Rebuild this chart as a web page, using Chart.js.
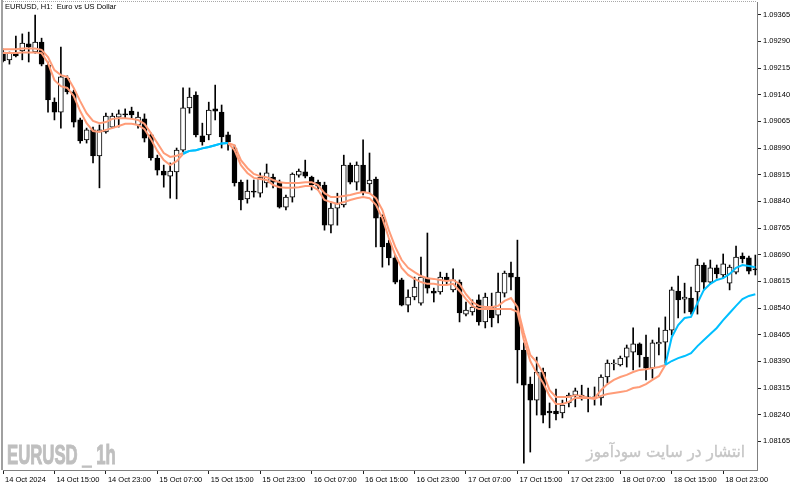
<!DOCTYPE html>
<html>
<head>
<meta charset="utf-8">
<script src="https://cdn.jsdelivr.net/npm/chart.js@4.4.1/dist/chart.umd.min.js"></script>
<style>
  html, body { margin: 0; padding: 0; background: #ffffff; }
  #wrap { position: relative; width: 800px; height: 487px; overflow: hidden; background: #ffffff; }
  #c { position: absolute; left: 0; top: 0; }
  .ov { position: absolute; white-space: nowrap; pointer-events: none; }
  #title { left: 5px; top: 2px; font: 7.5px 'Liberation Sans', Arial, sans-serif; color: #000; line-height: 10px; }
  #wm1 { left: 7px; top: 442px; font: bold 27px 'Liberation Sans', Arial, sans-serif; line-height: 27px; color: #bfbfbf; -webkit-text-stroke: 1px #bfbfbf; transform: scaleX(0.62); transform-origin: 0 0; }
  #wm2 { right: 55px; top: 438px; font: 16px 'DejaVu Sans', sans-serif; line-height: 28px; color: #c6c6c6; direction: rtl; -webkit-text-stroke: 0.4px #c6c6c6; transform: scaleX(0.95); transform-origin: 100% 0; }
</style>
</head>
<body>
<div id="wrap">
  <canvas id="c" width="800" height="487"></canvas>
  <div class="ov" id="title">EURUSD, H1:&nbsp; Euro vs US Dollar</div>
  <div class="ov" id="wm1">EURUSD _ 1h</div>
  <div class="ov" id="wm2">انتشار در سایت سودآموز</div>
</div>
<script>
// ---- data (EURUSD H1 candles, 14 Oct 2024 07:00 onward) ----
const open = [
1.09260,1.09238,1.09257,1.09263,1.09283,1.09260,1.09288,1.09223,1.09119,1.09091,
1.09187,1.09148,1.09069,1.09013,1.09041,1.08968,1.09035,1.09049,1.09077,1.09086,
1.09094,1.09055,1.09072,1.09027,1.08962,1.08925,1.08911,1.08923,1.08984,1.09103,
1.09139,1.09024,1.09027,1.09100,1.09091,1.09027,1.08990,1.08894,1.08847,1.08869,
1.08863,1.08892,1.08908,1.08894,1.08824,1.08852,1.08914,1.08923,1.08908,1.08894,
1.08886,1.08773,1.08821,1.08830,1.08942,1.08894,1.08942,1.08889,1.08903,1.08796,
1.08723,1.08681,1.08619,1.08548,1.08571,1.08554,1.08624,1.08588,1.08585,1.08627,
1.08591,1.08613,1.08523,1.08529,1.08563,1.08501,1.08543,1.08520,1.08582,1.08638,
1.08627,1.08422,1.08326,1.08281,1.08360,1.08250,1.08250,1.08245,1.08273,1.08295,
1.08295,1.08290,1.08287,1.08287,1.08346,1.08383,1.08380,1.08402,1.08416,1.08439,
1.08402,1.08371,1.08439,1.08444,1.08478,1.08588,1.08565,1.08568,1.08585,1.08661,
1.08613,1.08653,1.08633,1.08610,1.08641,1.08686,1.08681,1.08650
];
const high = [
1.09268,1.09260,1.09305,1.09311,1.09316,1.09364,1.09299,1.09232,1.09131,1.09274,
1.09193,1.09153,1.09074,1.09046,1.09049,1.09055,1.09088,1.09088,1.09097,1.09100,
1.09105,1.09091,1.09086,1.09032,1.08970,1.08942,1.08948,1.08990,1.09159,1.09159,
1.09148,1.09060,1.09119,1.09167,1.09111,1.09035,1.08998,1.08900,1.08900,1.08900,
1.08920,1.08945,1.08917,1.08900,1.08858,1.08920,1.08931,1.08956,1.08911,1.08900,
1.08894,1.08835,1.08863,1.08970,1.08948,1.08951,1.09013,1.08976,1.08908,1.08802,
1.08731,1.08689,1.08624,1.08591,1.08627,1.08683,1.08751,1.08596,1.08641,1.08638,
1.08650,1.08619,1.08557,1.08563,1.08577,1.08582,1.08582,1.08638,1.08644,1.08669,
1.08731,1.08442,1.08346,1.08402,1.08371,1.08273,1.08312,1.08281,1.08301,1.08315,
1.08323,1.08315,1.08318,1.08352,1.08394,1.08394,1.08405,1.08436,1.08484,1.08442,
1.08464,1.08450,1.08484,1.08515,1.08599,1.08630,1.08610,1.08599,1.08678,1.08667,
1.08675,1.08661,1.08692,1.08661,1.08714,1.08695,1.08686,1.08689
];
const low = [
1.09232,1.09226,1.09246,1.09238,1.09232,1.09257,1.09221,1.09091,1.09069,1.09046,
1.09142,1.09049,1.09004,1.09004,1.08948,1.08878,1.09032,1.09046,1.09049,1.09074,
1.09074,1.09046,1.09007,1.08956,1.08914,1.08880,1.08849,1.08847,1.08979,1.09088,
1.09021,1.08998,1.09013,1.09069,1.08990,1.08984,1.08883,1.08816,1.08835,1.08852,
1.08852,1.08880,1.08878,1.08821,1.08816,1.08838,1.08908,1.08906,1.08872,1.08872,
1.08759,1.08751,1.08773,1.08824,1.08889,1.08872,1.08858,1.08863,1.08712,1.08655,
1.08661,1.08608,1.08546,1.08529,1.08563,1.08548,1.08582,1.08557,1.08579,1.08605,
1.08585,1.08501,1.08518,1.08520,1.08492,1.08484,1.08487,1.08498,1.08571,1.08591,
1.08329,1.08104,1.08135,1.08239,1.08217,1.08203,1.08225,1.08231,1.08262,1.08262,
1.08281,1.08248,1.08267,1.08267,1.08329,1.08366,1.08377,1.08374,1.08366,1.08374,
1.08338,1.08343,1.08408,1.08385,1.08464,1.08512,1.08526,1.08523,1.08523,1.08591,
1.08608,1.08624,1.08624,1.08591,1.08636,1.08667,1.08636,1.08633
];
const close = [
1.09235,1.09257,1.09249,1.09285,1.09274,1.09288,1.09226,1.09125,1.09091,1.09190,
1.09148,1.09063,1.09010,1.09041,1.08968,1.09041,1.09080,1.09080,1.09086,1.09083,
1.09083,1.09077,1.09018,1.08962,1.08928,1.08914,1.08925,1.08984,1.09103,1.09133,
1.09027,1.09007,1.09097,1.09094,1.09021,1.09007,1.08892,1.08844,1.08869,1.08866,
1.08908,1.08920,1.08894,1.08824,1.08852,1.08917,1.08925,1.08911,1.08886,1.08883,
1.08773,1.08821,1.08835,1.08942,1.08894,1.08942,1.08866,1.08900,1.08793,1.08712,
1.08681,1.08613,1.08548,1.08571,1.08599,1.08627,1.08596,1.08582,1.08627,1.08619,
1.08619,1.08526,1.08534,1.08543,1.08501,1.08571,1.08512,1.08585,1.08638,1.08627,
1.08422,1.08323,1.08281,1.08360,1.08239,1.08245,1.08242,1.08267,1.08295,1.08307,
1.08290,1.08287,1.08290,1.08346,1.08385,1.08385,1.08399,1.08428,1.08439,1.08408,
1.08371,1.08442,1.08444,1.08478,1.08591,1.08563,1.08571,1.08529,1.08661,1.08613,
1.08653,1.08636,1.08664,1.08655,1.08683,1.08678,1.08644,1.08647
];
// moving-average lines (upper / lower)
const maUpper = [
1.09268,1.09268,1.09268,1.09270,1.09270,1.09270,1.09266,1.09246,1.09209,1.09195,
1.09190,1.09159,1.09122,1.09088,1.09066,1.09060,1.09063,1.09072,1.09074,1.09074,
1.09072,1.09069,1.09058,1.09032,1.09004,1.08976,1.08965,1.08968,1.08976,1.08982,
1.08984,1.08989,1.08993,1.08998,1.09003,1.09004,1.08998,1.08956,1.08934,1.08917,
1.08911,1.08908,1.08900,1.08894,1.08892,1.08892,1.08892,1.08894,1.08894,1.08886,
1.08863,1.08852,1.08852,1.08855,1.08858,1.08863,1.08866,1.08863,1.08849,1.08816,
1.08759,1.08712,1.08675,1.08653,1.08641,1.08630,1.08624,1.08622,1.08619,1.08616,
1.08619,1.08608,1.08579,1.08557,1.08546,1.08543,1.08543,1.08546,1.08560,1.08568,
1.08543,1.08470,1.08408,1.08388,1.08357,1.08309,1.08290,1.08290,1.08290,1.08295,
1.08293,1.08287,1.08287,1.08309,1.08326,1.08338,1.08346,1.08352,1.08360,1.08366,
1.08368,1.08371,1.08374,1.08380,1.08458,1.08492,1.08512,1.08515,1.08554,1.08591,
1.08608,1.08619,1.08624,1.08636,1.08653,1.08661,1.08658,1.08655
];
const maLower = [
1.09257,1.09257,1.09257,1.09259,1.09259,1.09259,1.09257,1.09229,1.09181,1.09164,
1.09159,1.09136,1.09094,1.09060,1.09038,1.09035,1.09041,1.09046,1.09052,1.09058,
1.09058,1.09055,1.09043,1.09015,1.08982,1.08956,1.08942,1.08953,1.08973,1.08982,
1.08984,1.08989,1.08993,1.08998,1.09003,1.09004,1.08984,1.08942,1.08920,1.08906,
1.08903,1.08900,1.08886,1.08880,1.08878,1.08878,1.08880,1.08883,1.08883,1.08872,
1.08844,1.08838,1.08833,1.08838,1.08844,1.08849,1.08852,1.08849,1.08830,1.08793,
1.08737,1.08689,1.08653,1.08633,1.08622,1.08613,1.08608,1.08608,1.08605,1.08605,
1.08608,1.08588,1.08565,1.08546,1.08537,1.08537,1.08537,1.08537,1.08537,1.08537,
1.08529,1.08450,1.08391,1.08357,1.08329,1.08293,1.08270,1.08270,1.08276,1.08287,
1.08287,1.08287,1.08284,1.08293,1.08298,1.08301,1.08304,1.08307,1.08315,1.08318,
1.08326,1.08338,1.08349,1.08380,1.08391,1.08399,1.08405,1.08413,1.08433,1.08450,
1.08467,1.08484,1.08506,1.08526,1.08546,1.08565,1.08574,1.08579
];
// bar-index ranges where the lines are drawn in the "up" colour
const upTrendRanges = [[28, 35], [103, 117]];

const xTickLabels = ['14 Oct 2024','14 Oct 15:00','14 Oct 23:00','15 Oct 07:00','15 Oct 15:00',
  '15 Oct 23:00','16 Oct 07:00','16 Oct 15:00','16 Oct 23:00','17 Oct 07:00','17 Oct 15:00',
  '17 Oct 23:00','18 Oct 07:00','18 Oct 15:00','18 Oct 23:00'];
const barsPerXTick = 8;
const yTicks = [1.08165,1.08240,1.08315,1.08390,1.08465,1.08540,1.08615,1.08690,1.08765,
  1.08840,1.08915,1.08990,1.09065,1.09140,1.09215,1.09290,1.09365];

// ---- build chart ----
const SALMON = '#FF9C78', BLUE = '#00BFFF';
const idx = open.map((_, i) => i);
const inUp = (a, b) => upTrendRanges.some(([s, e]) => a >= s && b <= e);
const lineDs = (vals) => ({
  type: 'line',
  data: idx.map(i => ({ x: i, y: vals[i] })),
  borderColor: SALMON,
  borderWidth: 2,
  pointRadius: 0,
  tension: 0,
  fill: false,
  order: 1,
  segment: { borderColor: c => inUp(c.p0DataIndex, c.p1DataIndex) ? BLUE : SALMON }
});

const framePlugin = {
  id: 'frame',
  afterDraw(chart) {
    const { ctx, chartArea: a } = chart;
    ctx.save();
    ctx.fillStyle = '#a0a0a0';
    ctx.fillRect(1, 0, 2, a.bottom);
    ctx.fillStyle = '#a8a8a8';
    for (let x = a.left; x < a.right; x += 2) ctx.fillRect(x, 1, 1, 1);
    ctx.restore();
  }
};

new Chart(document.getElementById('c'), {
  type: 'bar',
  data: {
    datasets: [
      lineDs(maUpper),
      lineDs(maLower),
      {
        type: 'bar',
        data: idx.map(i => ({ x: i, y: [open[i], close[i]] })),
        backgroundColor: idx.map(i => close[i] >= open[i] ? '#ffffff' : '#000000'),
        borderColor: '#000000',
        borderWidth: 1,
        borderSkipped: false,
        barThickness: 5,
        grouped: false,
        order: 2
      },
      {
        type: 'bar',
        data: idx.map(i => ({ x: i, y: [low[i], high[i]] })),
        backgroundColor: '#000000',
        borderWidth: 0,
        barThickness: 1,
        grouped: false,
        order: 3
      }
    ]
  },
  options: {
    responsive: false,
    devicePixelRatio: 1,
    animation: false,
    layout: { padding: { left: 3, top: 2, right: 0, bottom: 0 } },
    plugins: { legend: { display: false }, tooltip: { enabled: false }, title: { display: false } },
    scales: {
      x: {
        type: 'linear',
        min: 0,
        max: 117.26,
        offset: false,
        grid: { display: true, drawOnChartArea: false, drawTicks: true, tickLength: 4, color: '#222', offset: false },
        border: { display: true, color: '#808080', width: 1 },
        ticks: {
          autoSkip: false, maxRotation: 0, minRotation: 0, align: 'start', padding: 1, labelOffset: 2,
          color: '#000', font: { family: "'Liberation Sans', Arial, sans-serif", size: 7.5 },
          callback: (v, i) => xTickLabels[i]
        },
        afterBuildTicks: s => { s.ticks = xTickLabels.map((_, k) => ({ value: k * barsPerXTick })); },
        afterFit: s => { s.height = 17; s.paddingLeft = 0; s.paddingRight = 0; }
      },
      y: {
        type: 'linear',
        position: 'right',
        min: 1.080845,
        max: 1.094007,
        grid: { display: true, drawOnChartArea: false, drawTicks: true, tickLength: 4, color: '#222' },
        border: { display: true, color: '#808080', width: 1 },
        ticks: {
          padding: 2, color: '#000', font: { family: "'Liberation Sans', Arial, sans-serif", size: 7.5 },
          callback: v => Number(v).toFixed(5)
        },
        afterBuildTicks: s => { s.ticks = yTicks.map(v => ({ value: v })); },
        afterFit: s => { s.width = 43; s.paddingTop = 0; s.paddingBottom = 0; }
      }
    }
  },
  plugins: [framePlugin]
});
</script>
</body>
</html>
